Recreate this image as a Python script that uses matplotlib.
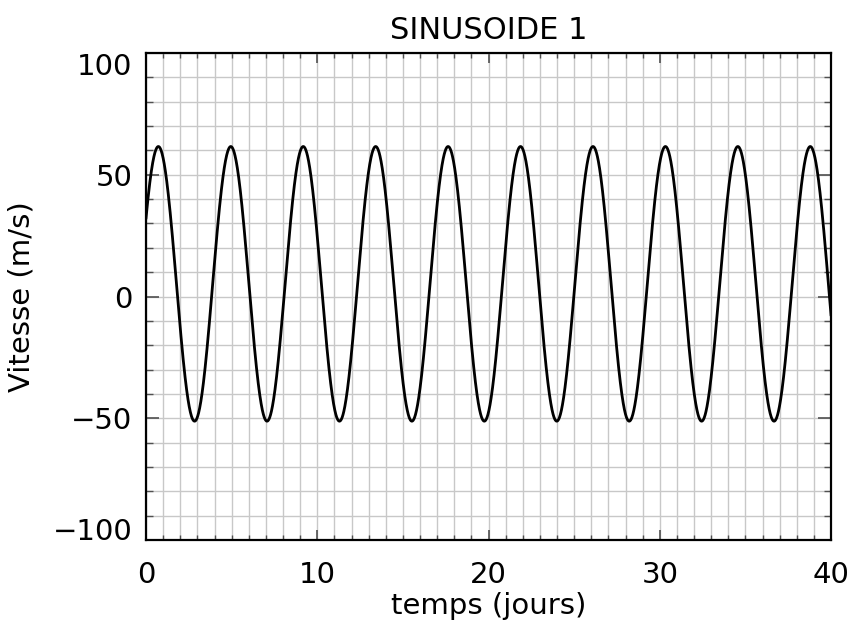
import numpy as np
import matplotlib.pyplot as plt
from matplotlib.ticker import MultipleLocator
from matplotlib.transforms import ScaledTranslation

# values
amplitude = 56.4      # m/s
offset = 5.2          # m/s
period = 4.23         # jours
first_peak = 0.72     # jours
t_start, t_end = 0.0, 40.0

x_ticks = [0, 10, 20, 30, 40]
y_ticks = [-100, -50, 0, 50, 100]
y_tick_labels = ["\u2212100", "\u221250", "0", "50", "100"]

title = "SINUSOIDE 1"
xlabel = "temps (jours)"
ylabel = "Vitesse (m/s)"

t = np.linspace(t_start, t_end, 4000)
v = offset + amplitude * np.cos(2 * np.pi * (t - first_peak) / period)

plt.rcParams["font.family"] = ["DejaVu Sans"]

fig = plt.figure(figsize=(8.51, 6.26), dpi=100)
ax = fig.add_axes([0.1716, 0.1374, 0.8049, 0.7779])

ax.plot(t, v, color="black", lw=2.0, zorder=3)

ax.set_xlim(0, 40)
ax.set_ylim(-100, 100)
ax.set_xticks(x_ticks)
ax.set_yticks(y_ticks)
ax.set_yticklabels(y_tick_labels)
ax.xaxis.set_minor_locator(MultipleLocator(1))
ax.yaxis.set_minor_locator(MultipleLocator(10))

ax.grid(which="both", color="#c8c8c8", lw=1.0, zorder=0)
ax.tick_params(which="both", direction="in", top=True, right=True,
               color="#505050", labelcolor="black", labelsize=21)
ax.tick_params(axis="y", which="major", length=9.4, width=1.2, pad=10)
ax.tick_params(axis="y", which="minor", length=4.7, width=1.0)
ax.tick_params(axis="x", which="major", length=7, width=1.2, pad=15)
ax.tick_params(axis="x", which="minor", length=3.6, width=1.0)
for s in ax.spines.values():
    s.set_linewidth(1.6)

# extreme y labels sit inside the axis range, as in the original
yt = ax.yaxis.get_major_ticks()
shift = 11 / 100
yt[0].label1.set_transform(yt[0].label1.get_transform()
                           + ScaledTranslation(0, shift, fig.dpi_scale_trans))
yt[-1].label1.set_transform(yt[-1].label1.get_transform()
                            + ScaledTranslation(0, -shift, fig.dpi_scale_trans))

ax.set_title(title, fontsize=22, pad=10)
ax.set_xlabel(xlabel, fontsize=21, labelpad=2)
ax.set_ylabel(ylabel, fontsize=21, labelpad=12)

fig.savefig("out.png", dpi=100)
plt.close(fig)
